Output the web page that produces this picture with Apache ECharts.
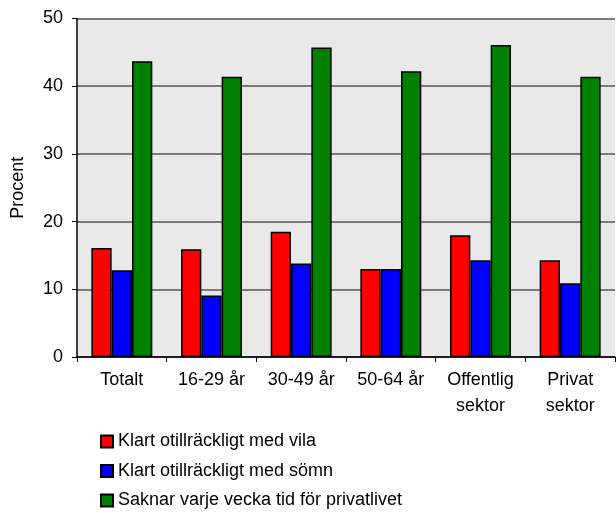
<!DOCTYPE html>
<html>
<head>
<meta charset="utf-8">
<script src="https://cdn.jsdelivr.net/npm/echarts@6/dist/echarts.min.js"></script>
<style>
  html, body { margin: 0; padding: 0; background: #fff; }
  #chart { width: 616px; height: 513px; }
</style>
</head>
<body>
<div id="chart"></div>
<script>
// Group labels along the x axis
const categories = ['Totalt', '16-29 år', '30-49 år', '50-64 år', 'Offentlig\nsektor', 'Privat\nsektor'];

// Percentages per group
const vila = [16.1, 15.9, 18.5, 13.0, 18.0, 14.3];
const somn = [12.8, 9.1, 13.8, 13.0, 14.3, 10.9];
const privatliv = [43.7, 41.4, 45.7, 42.2, 46.1, 41.4];

const seriesNames = [
  'Klart otillräckligt med vila',
  'Klart otillräckligt med sömn',
  'Saknar varje vecka tid för privatlivet'
];

const yTicks = { min: 0, max: 50, interval: 10 };

const font = 'Liberation Sans, Arial, sans-serif';

function barSeries(name, data, color) {
  return {
    name: name,
    type: 'bar',
    data: data,
    barGap: '0%',
    barCategoryGap: '32%',
    itemStyle: { color: color, borderColor: '#000', borderWidth: 1.5 }
  };
}

const chart = echarts.init(document.getElementById('chart'), null, { renderer: 'canvas' });
chart.setOption({
  animation: false,
  textStyle: { fontFamily: font },
  grid: {
    left: 77, top: 18.5, right: 1, bottom: 156,
    show: true, backgroundColor: '#e9e9e9', borderWidth: 0
  },
  legend: {
    orient: 'vertical',
    left: 100, top: 432.5,
    padding: 0,
    itemWidth: 12, itemHeight: 12,
    itemGap: 11.5,
    icon: 'rect',
    textStyle: { fontFamily: font, fontSize: 18, color: '#000' },
    data: seriesNames
  },
  xAxis: {
    type: 'category',
    data: categories,
    axisLine: { lineStyle: { color: '#000', width: 1.5 } },
    axisTick: { show: true, length: 5, lineStyle: { color: '#000' } },
    axisLabel: { color: '#000', fontSize: 18, fontFamily: font, margin: 10, lineHeight: 26 }
  },
  yAxis: {
    type: 'value',
    min: yTicks.min, max: yTicks.max, interval: yTicks.interval,
    name: 'Procent',
    nameLocation: 'middle',
    nameGap: 50,
    nameRotate: 90,
    nameTextStyle: { color: '#000', fontSize: 18, fontFamily: font },
    axisLine: { show: true, lineStyle: { color: '#000', width: 1.5 } },
    axisTick: { show: true, length: 5, lineStyle: { color: '#000' } },
    axisLabel: { color: '#000', fontSize: 18, fontFamily: font, margin: 14 },
    splitLine: { show: true, lineStyle: { color: '#555', width: 1.5 } }
  },
  series: [
    barSeries(seriesNames[0], vila, '#ff0000'),
    barSeries(seriesNames[1], somn, '#0000ff'),
    barSeries(seriesNames[2], privatliv, '#008000')
  ]
});
</script>
</body>
</html>
